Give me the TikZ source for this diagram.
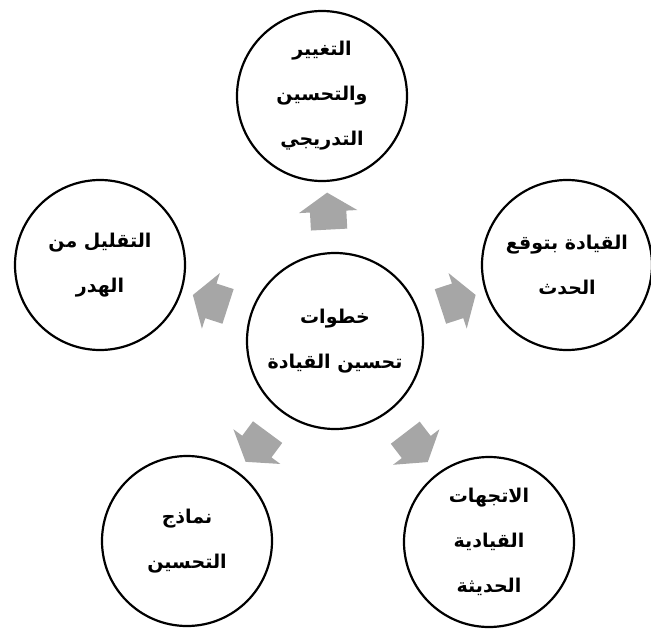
\documentclass[tikz,border=0pt]{standalone}
\usepackage{fontspec}
\newfontfamily\arabicfont[Script=Arabic]{DejaVu Sans}
\TeXXeTstate=1
\usetikzlibrary{shapes.arrows}

\tikzset{
  stepcircle/.style = {circle, draw, line width=2.2pt, minimum size=170pt, inner sep=0pt,
    align=center, font=\arabicfont\bfseries\fontsize{19}{45}\selectfont},
  maincircle/.style = {stepcircle, minimum size=176pt},
  gaparrow/.style = {single arrow, fill=gray!70, draw=none, minimum height=37pt,
    minimum width=58pt, inner xsep=0pt, inner ysep=18pt, single arrow head extend=11pt,
    single arrow tip angle=114, sloped, allow upside down}
}

\begin{document}
\begin{tikzpicture}[x=1pt, y=-1pt]
  \useasboundingbox (0,0) rectangle (651,635);
  \node (ctr) at (335,341) [maincircle] {\beginR خطوات\endR\\\beginR تحسين القيادة\endR};
  \node (top) at (322,96) [stepcircle] {\beginR التغيير\endR\\\beginR والتحسين\endR\\\beginR التدريجي\endR};
  \node (rgt) at (567,265) [stepcircle] {\beginR القيادة بتوقع\endR\\\beginR الحدث\endR};
  \node (lft) at (100,265) [stepcircle] {\beginR التقليل من\endR\\\beginR الهدر\endR};
  \node (brt) at (489,542) [stepcircle] {\beginR الاتجهات\endR\\\beginR القيادية\endR\\\beginR الحديثة\endR};
  \node (blt) at (187,541) [stepcircle] {\beginR نماذج\endR\\\beginR التحسين\endR};
  \path (ctr) -- node (a1) [gaparrow] {} (top);
  \path (ctr) -- node (a2) [gaparrow] {} (rgt);
  \path (ctr) -- node (a3) [gaparrow] {} (brt);
  \path (ctr) -- node (a4) [gaparrow] {} (blt);
  \path (ctr) -- node (a5) [gaparrow] {} (lft);
\end{tikzpicture}
\end{document}
